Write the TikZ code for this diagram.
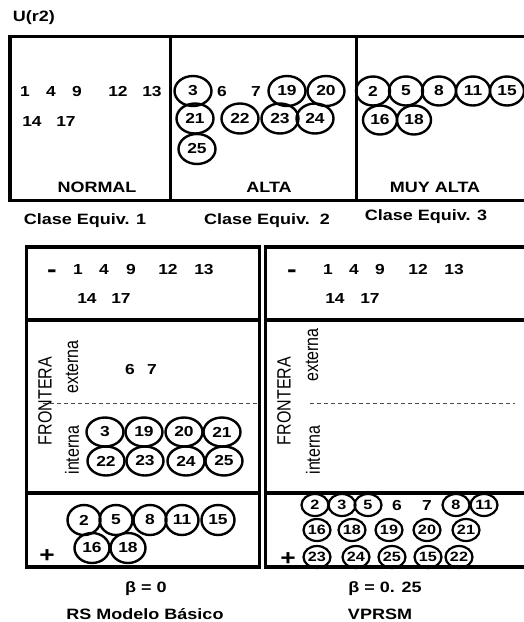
\documentclass[tikz,border=0pt]{standalone}
\usepackage{fontspec}
\setmainfont{Liberation Sans}[FakeStretch=1.2]
\newfontfamily\plainsf{Liberation Sans}
\usetikzlibrary{shapes.geometric}
\tikzset{
  num/.style={anchor=base, inner sep=0pt, font=\fontsize{14.5}{17}\selectfont\bfseries},
  cnum/.style={ellipse, draw, line width=2.4pt, minimum width=37pt, minimum height=30pt, inner sep=0pt, font=\fontsize{14.5}{17}\selectfont\bfseries},
  mnum/.style={cnum, minimum width=34pt, minimum height=29pt},
  scnum/.style={cnum, line width=2.2pt, minimum width=27pt, minimum height=22pt, font=\fontsize{13.5}{16}\selectfont\bfseries},
  lbl/.style={anchor=base, inner sep=0pt, font=\fontsize{15}{18}\selectfont\bfseries},
  boxline/.style={line width=3.5pt},
  rot/.style={inner sep=0pt, font=\fontsize{16}{18}\plainsf},
  sign/.style={inner sep=0pt, font=\fontsize{22}{24}\selectfont\bfseries},
  minus/.style={inner sep=0pt, font=\fontsize{24}{26}\selectfont\bfseries},
  dashline/.style={draw=black!70, line width=1pt, dash pattern=on 4pt off 3pt}
}
\begin{document}
\begin{tikzpicture}[x=1pt,y=-1pt]
\useasboundingbox (0,0) rectangle (523,622);
% title
\node[lbl] (title) at (34,21) {U(r2)};
% top box
\draw[boxline] (10,36.5) rectangle (545,200.5);
\draw[boxline] (170.5,36.5) -- (170.5,200.5);
\draw[boxline] (356.5,36.5) -- (356.5,200.5);
% NORMAL
\foreach \t/\x in {1/25,4/51,9/77,12/118,13/152}
  \node[num] (n-\t) at (\x,96.7) {\t};
\foreach \t/\x in {14/32,17/66}
  \node[num] (n-\t) at (\x,126) {\t};
% ALTA
\foreach \t/\x in {3/193,19/287,20/326}
  \node[cnum] (a-\t) at (\x,91) {\t};
\foreach \t/\x in {6/222,7/256}
  \node[num] (a-\t) at (\x,96.7) {\t};
\foreach \t/\x in {21/195,22/240,23/280,24/315}
  \node[cnum] (a-\t) at (\x,118.5) {\t};
\node[cnum] (a-25) at (197,149) {25};
% MUY ALTA
\foreach \t/\x in {2/373,5/406,8/439,11/473,15/507}
  \node[mnum] (m-\t) at (\x,91) {\t};
\foreach \t/\x in {16/380,18/414}
  \node[mnum] (m-\t) at (\x,120) {\t};
% class labels
\node[lbl] (normal) at (97,192) {NORMAL};
\node[lbl] (alta) at (269,192) {ALTA};
\node[lbl] (muyalta) at (435,192) {MUY ALTA};
\node[lbl] (ce1) at (85,224) {Clase Equiv. 1};
\node[lbl] (ce2) at (267,224) {Clase Equiv.\ \ 2};
\node[lbl] (ce3) at (426,220) {Clase Equiv. 3};
% bottom boxes
\draw[boxline] (26.5,247) rectangle (259.5,567);
\draw[boxline] (26.5,320) -- (259.5,320);
\draw[boxline] (26.5,493) -- (259.5,493);
\draw[boxline] (265.5,247) rectangle (545,567);
\draw[boxline] (265.5,320) -- (545,320);
\draw[boxline] (265.5,493) -- (545,493);
% negative region
\node[minus] (minusL) at (52,273.5) {-};
\node[minus] (minusR) at (292,273.5) {-};
\foreach \t/\x in {1/78,4/104,9/131,12/168,13/204}
  \node[num] (lneg-\t) at (\x,274.5) {\t};
\foreach \t/\x in {14/87,17/121}
  \node[num] (lneg-\t) at (\x,303) {\t};
\foreach \t/\x in {1/328,4/354,9/380,12/418,13/454}
  \node[num] (rneg-\t) at (\x,274.5) {\t};
\foreach \t/\x in {14/335,17/370}
  \node[num] (rneg-\t) at (\x,303) {\t};
% frontera labels
\node[rot] (frL) at (45,401) {\scalebox{1.2}[1]{\rotatebox{90}{FRONTERA}}};
\node[rot] (exL) at (72,367) {\scalebox{1.2}[1]{\rotatebox{90}{externa}}};
\node[rot] (inL) at (72,450) {\scalebox{1.2}[1]{\rotatebox{90}{interna}}};
\node[rot] (frR) at (284,401) {\scalebox{1.2}[1]{\rotatebox{90}{FRONTERA}}};
\node[rot] (exR) at (312,355) {\scalebox{1.2}[1]{\rotatebox{90}{externa}}};
\node[rot] (inR) at (313,450) {\scalebox{1.2}[1]{\rotatebox{90}{interna}}};
\coordinate (dL1) at (43,403); \coordinate (dL2) at (257,403);
\coordinate (dR1) at (310,403); \coordinate (dR2) at (515,403);
\draw[dashline] (dL1) -- (dL2);
\draw[dashline] (dR1) -- (dR2);
% left frontera content
\node[num] (le-6) at (130,374) {6};
\node[num] (le-7) at (152,374) {7};
\foreach \t/\x in {3/105,19/144,20/184,21/222}
  \node[cnum, minimum height=29pt] (li-\t) at (\x,432) {\t};
\foreach \t/\x in {22/106,23/145,24/186,25/224}
  \node[cnum, minimum height=29pt] (li-\t) at (\x,461) {\t};
% left positive region
\foreach \t/\x in {2/84,5/116,8/150,11/182,15/218}
  \node[mnum, minimum width=33pt, minimum height=30pt] (lp-\t) at (\x,520) {\t};
\foreach \t/\x in {16/92,18/128}
  \node[mnum, minimum width=35pt, minimum height=30pt] (lp-\t) at (\x,548) {\t};
\node[sign] (plusL) at (47,556) {+};
% right positive region
\foreach \t/\x in {2/315,3/342,5/368,8/456,11/484}
  \node[scnum] (rp-\t) at (\x,505) {\t};
\node[num] (rp-6) at (397,510) {6};
\node[num] (rp-7) at (427,510) {7};
\foreach \t/\x in {16/317,18/352,19/389,20/427,21/466}
  \node[scnum] (rp-\t) at (\x,530) {\t};
\foreach \t/\x in {23/317,24/356,25/392,15/428,22/459}
  \node[scnum] (rp-\t) at (\x,557) {\t};
\node[sign] (plusR) at (288,559) {+};
% bottom labels
\node[lbl] (betaL) at (146,592) {β = 0};
\node[lbl] (betaR) at (385,592) {β = 0. 25};
\node[lbl] (rsb) at (145,619) {RS Modelo Básico};
\node[lbl] (vprsm) at (380,619) {VPRSM};
\end{tikzpicture}
\end{document}
